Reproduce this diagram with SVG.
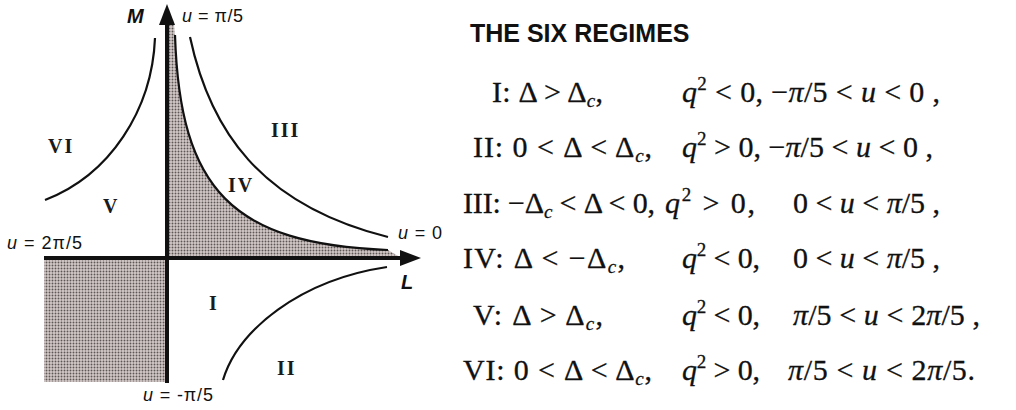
<svg xmlns="http://www.w3.org/2000/svg" width="1016" height="410" viewBox="0 0 1016 410">
<defs>
<pattern id="dots" width="3" height="3" patternUnits="userSpaceOnUse">
<rect width="3" height="3" fill="#d3c9c9"/>
<circle cx="1.5" cy="1.5" r="0.95" fill="#5e5656"/>
</pattern>
</defs>
<style>
.ax{stroke:#111;stroke-width:4;fill:none}
.cv{stroke:#111;stroke-width:2.2;fill:none}
.lab{font-family:"Liberation Sans",Arial,sans-serif;font-size:18px;fill:#111}
.axn{font-family:"Liberation Sans",Arial,sans-serif;font-size:20px;font-weight:bold;font-style:italic;fill:#111}
.rn{font-family:"Liberation Serif","Times New Roman",serif;font-size:20px;font-weight:bold;fill:#1a1a1a;letter-spacing:2px}
.title{font-family:"Liberation Sans",Arial,sans-serif;font-size:25px;font-weight:bold;fill:#111}
.eq{font-family:"Liberation Serif","Times New Roman",serif;font-size:30px;fill:#111;stroke:#111;stroke-width:0.3}
.it{font-style:italic}
.sm{font-size:19px}
</style>
<rect width="1016" height="410" fill="#ffffff"/>
<g id="shading">
<rect x="44" y="258" width="123" height="124" fill="url(#dots)"/>
<path d="M167,24 L174,24 L175,35 C180,190 230,244 388,250 L398,256 L167,258 Z" fill="url(#dots)"/>
</g>
<g id="connectors">
<path class="cv" d="M175,35 C180,190 232,244 388,250"/>
<path class="cv" d="M190,37 C210,130 260,205 388,237"/>
<path class="cv" d="M155,38 C152,110 110,175 45,200"/>
<path class="cv" d="M223,380 C238,330 300,280 387,267"/>
</g>
<g id="axes">
<line class="ax" x1="167" y1="383" x2="167" y2="22"/>
<polygon points="167,4 175,25 159,25" fill="#111"/>
<line class="ax" x1="44" y1="258" x2="403" y2="258"/>
<polygon points="421,258 400,250 400,266" fill="#111"/>
<text class="axn" x="127" y="23">M</text>
<text class="axn" x="401" y="289">L</text>
</g>
<g id="axis-labels">
<text class="lab" x="182" y="22" textLength="61" lengthAdjust="spacing"><tspan class="it">u</tspan> = π/5</text>
<text class="lab" x="398" y="239" textLength="44" lengthAdjust="spacing"><tspan class="it">u</tspan> = 0</text>
<text class="lab" x="7" y="249" textLength="75" lengthAdjust="spacing"><tspan class="it">u</tspan> = 2π/5</text>
<text class="lab" x="143" y="401" textLength="70" lengthAdjust="spacing"><tspan class="it">u</tspan> = -π/5</text>
</g>
<g id="region-labels">
<text class="rn" x="48" y="153">VI</text>
<text class="rn" x="103" y="213">V</text>
<text class="rn" x="271" y="137">III</text>
<text class="rn" x="228" y="192">IV</text>
<text class="rn" x="209" y="310">I</text>
<text class="rn" x="277" y="375">II</text>
</g>
<g id="regimes">
<text class="title" x="470" y="42">THE SIX REGIMES</text>
<g id="row1">
<text class="eq" x="492" y="102" textLength="111" lengthAdjust="spacing">I: Δ &gt; Δ<tspan class="it sm" dy="5">c</tspan><tspan dy="-5">,</tspan></text>
<text class="eq" x="682" y="102" textLength="258" lengthAdjust="spacing"><tspan class="it">q</tspan><tspan class="sm" dy="-12">2</tspan><tspan dy="12"> &lt; 0, −</tspan><tspan class="it">π</tspan>/5 &lt; <tspan class="it">u</tspan> &lt; 0 ,</text>
</g>
<g id="row2">
<text class="eq" x="473" y="157" textLength="179" lengthAdjust="spacing">II: 0 &lt; Δ &lt; Δ<tspan class="it sm" dy="5">c</tspan><tspan dy="-5">,</tspan></text>
<text class="eq" x="682" y="157" textLength="251" lengthAdjust="spacing"><tspan class="it">q</tspan><tspan class="sm" dy="-12">2</tspan><tspan dy="12"> &gt; 0, −</tspan><tspan class="it">π</tspan>/5 &lt; <tspan class="it">u</tspan> &lt; 0 ,</text>
</g>
<g id="row3">
<text class="eq" x="463" y="213" textLength="192" lengthAdjust="spacing">III: −Δ<tspan class="it sm" dy="5">c</tspan><tspan dy="-5"> &lt; Δ &lt; 0,</tspan></text>
<text class="eq" x="665" y="213" textLength="90" lengthAdjust="spacing"><tspan class="it">q</tspan><tspan class="sm" dy="-12">2</tspan><tspan dy="12"> &gt; 0,</tspan></text>
<text class="eq" x="793" y="213" textLength="147" lengthAdjust="spacing">0 &lt; <tspan class="it">u</tspan> &lt; <tspan class="it">π</tspan>/5 ,</text>
</g>
<g id="row4">
<text class="eq" x="463" y="268" textLength="162" lengthAdjust="spacing">IV: Δ &lt; −Δ<tspan class="it sm" dy="5">c</tspan><tspan dy="-5">,</tspan></text>
<text class="eq" x="682" y="268" textLength="78" lengthAdjust="spacing"><tspan class="it">q</tspan><tspan class="sm" dy="-12">2</tspan><tspan dy="12"> &lt; 0,</tspan></text>
<text class="eq" x="793" y="268" textLength="147" lengthAdjust="spacing">0 &lt; <tspan class="it">u</tspan> &lt; <tspan class="it">π</tspan>/5 ,</text>
</g>
<g id="row5">
<text class="eq" x="473" y="325" textLength="130" lengthAdjust="spacing">V: Δ &gt; Δ<tspan class="it sm" dy="5">c</tspan><tspan dy="-5">,</tspan></text>
<text class="eq" x="682" y="325" textLength="78" lengthAdjust="spacing"><tspan class="it">q</tspan><tspan class="sm" dy="-12">2</tspan><tspan dy="12"> &lt; 0,</tspan></text>
<text class="eq" x="793" y="325" textLength="187" lengthAdjust="spacing"><tspan class="it">π</tspan>/5 &lt; <tspan class="it">u</tspan> &lt; 2<tspan class="it">π</tspan>/5 ,</text>
</g>
<g id="row6">
<text class="eq" x="463" y="380" textLength="189" lengthAdjust="spacing">VI: 0 &lt; Δ &lt; Δ<tspan class="it sm" dy="5">c</tspan><tspan dy="-5">,</tspan></text>
<text class="eq" x="682" y="380" textLength="78" lengthAdjust="spacing"><tspan class="it">q</tspan><tspan class="sm" dy="-12">2</tspan><tspan dy="12"> &gt; 0,</tspan></text>
<text class="eq" x="788" y="380" textLength="187" lengthAdjust="spacing"><tspan class="it">π</tspan>/5 &lt; <tspan class="it">u</tspan> &lt; 2<tspan class="it">π</tspan>/5.</text>
</g>
</g>
</svg>
